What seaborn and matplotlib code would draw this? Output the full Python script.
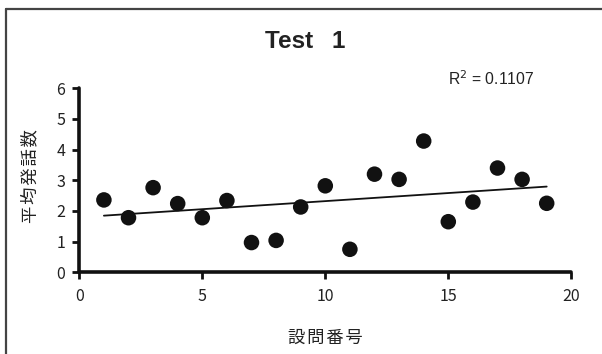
import matplotlib
matplotlib.use("Agg")
import matplotlib.pyplot as plt
import seaborn as sns
import pandas as pd
from matplotlib.lines import Line2D

question_no = [1, 2, 3, 4, 5, 6, 7, 8, 9, 10, 11, 12, 13, 14, 15, 16, 17, 18, 19]
avg_utterances = [2.36, 1.78, 2.76, 2.24, 1.78, 2.34, 0.97, 1.04, 2.13, 2.82,
                  0.75, 3.20, 3.03, 4.28, 1.65, 2.29, 3.40, 3.03, 2.25]
x_ticks = [0, 5, 10, 15, 20]
y_ticks = [0, 1, 2, 3, 4, 5, 6]
title = "Test\u2002 1"
r2_text = "R$^2$ = 0.1107"
x_label = "設問番号"
y_label = "平均発話数"

sns.set_theme(style="white")
plt.rcParams['font.family'] = ['Noto Sans CJK JP', 'DejaVu Sans']

df = pd.DataFrame({"q": question_no, "v": avg_utterances})

fig = plt.figure(figsize=(6.02, 3.54), dpi=100)
ax = fig.add_axes([79.3 / 602, 1 - 272.3 / 354, (571.3 - 79.3) / 602, (272.3 - 88.3) / 354])

sns.regplot(data=df, x="q", y="v", ax=ax, ci=None,
            scatter_kws=dict(s=125, color="#111111", edgecolor="none", alpha=1),
            line_kws=dict(color="#111111", lw=1.3))

ax.set_xlim(0, 20)
ax.set_ylim(0, 6)
ax.set_xticks(x_ticks)
ax.set_yticks(y_ticks)
ax.set_xlabel("")
ax.set_ylabel("")
for s in ["top", "right"]:
    ax.spines[s].set_visible(False)
for s in ["left", "bottom"]:
    ax.spines[s].set_color("#111111")
    ax.spines[s].set_linewidth(2.6)
    ax.spines[s].set_capstyle("round")
ax.tick_params(axis="both", which="both", direction="out", length=5, width=2,
               color="#111111", labelsize=11.5, labelcolor="#222222",
               left=True, bottom=True)
ax.tick_params(axis="y", pad=5)
ax.tick_params(axis="x", pad=6)

fig.text(305 / 602, 1 - 42 / 354, title, ha="center", va="center",
         fontsize=17.5, fontweight="bold", color="#222222",
         family=["Liberation Sans", "DejaVu Sans"])
fig.text(448 / 602, 1 - 79 / 354, r2_text, ha="left", va="center",
         fontsize=11.3, color="#222222", family=["Liberation Sans", "DejaVu Sans"])
fig.text(325 / 602, 1 - 338 / 354, "\u200a".join(x_label), ha="center", va="center",
         fontsize=12.5, color="#222222", family=['Noto Sans CJK JP', 'DejaVu Sans'])
fig.text(30 / 602, 1 - 176 / 354, "\u200a".join(y_label), ha="center", va="center",
         rotation=90, fontsize=12.5, color="#222222", family=['Noto Sans CJK JP', 'DejaVu Sans'])

fig.add_artist(Line2D([5.5 / 602, 1.0], [1 - 8.5 / 354, 1 - 8.5 / 354],
                      transform=fig.transFigure, color="#444444", lw=1.6))
fig.add_artist(Line2D([5.5 / 602, 5.5 / 602], [0, 1 - 8.5 / 354],
                      transform=fig.transFigure, color="#444444", lw=1.6))

fig.savefig("out.png", dpi=100)
